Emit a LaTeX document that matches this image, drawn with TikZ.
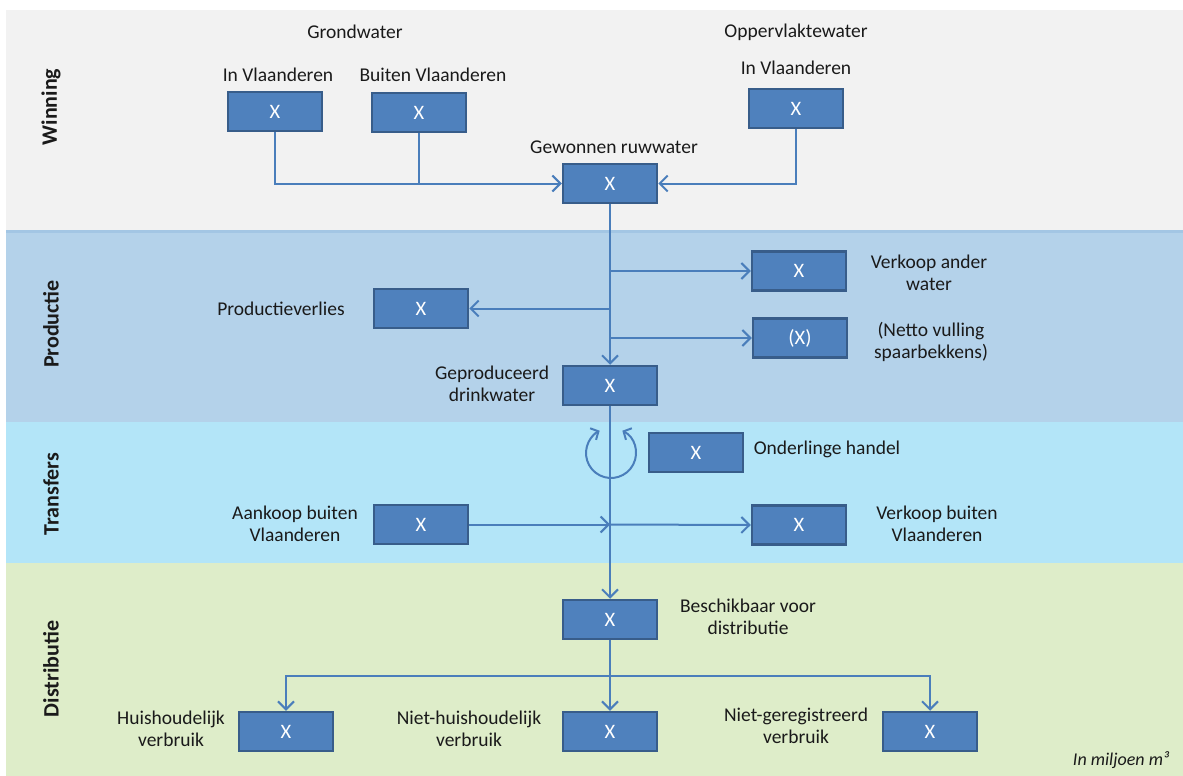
\documentclass[tikz,border=0pt]{standalone}
\usepackage{fontspec}
\setmainfont{Carlito}
\usetikzlibrary{arrows.meta,calc}
\definecolor{bandW}{HTML}{F2F2F2}
\definecolor{bandP}{HTML}{B4D2EA}
\definecolor{bandT}{HTML}{B3E5F8}
\definecolor{bandD}{HTML}{DEEDC9}
\definecolor{bandedge}{HTML}{A3C6E4}
\definecolor{boxfill}{HTML}{4F81BD}
\definecolor{boxline}{HTML}{385D8A}
\definecolor{flowc}{HTML}{4A7EBB}
\definecolor{txt}{HTML}{1A1A1A}
\begin{document}
\begin{tikzpicture}[x=1pt,y=-1pt,
  box/.style={draw=boxline, fill=boxfill, line width=2.5pt, minimum width=94pt,
    minimum height=39pt, inner sep=0pt, text=white, font=\fontsize{20.5}{22}\selectfont},
  lbl/.style={align=center, font=\fontsize{19.5}{22}\selectfont, text=txt, inner sep=0pt},
  bandlbl/.style={font=\bfseries\fontsize{22}{26}\selectfont, rotate=90, text=txt, inner sep=0pt},
  conn/.style={draw=flowc, line width=2pt},
  flow/.style={conn, -{Straight Barb[length=8pt,width=16pt]}},
  loopflow/.style={conn, {Straight Barb[length=6pt,width=13pt]}-{Straight Barb[length=6pt,width=13pt]}},
]
\useasboundingbox (0,0) rectangle (1183,776);
\fill[white] (0,0) rectangle (1183,776);
% bands
\fill[bandW] (6,10) rectangle (1183,230);
\fill[bandP] (6,230) rectangle (1183,422);
\fill[bandT] (6,422) rectangle (1183,563);
\fill[bandD] (6,563) rectangle (1183,776);
\draw[bandedge, line width=3pt] (6,231) -- (1183,231);

% band labels
\node[bandlbl] (lw) at (51,107) {Winning};
\node[bandlbl] (lp) at (51,324) {Productie};
\node[bandlbl] (lt) at (51,494) {Transfers};
\node[bandlbl] (ld) at (51,669) {Distributie};

% boxes
\node[box] (iv)  at (275,111.5) {X};
\node[box] (bv)  at (419,112.5) {X};
\node[box] (ov)  at (796,108.5) {X};
\node[box] (gew) at (610,183.5) {X};
\node[box] (va)  at (799,271) {X};
\node[box] (pv)  at (421,308.5) {X};
\node[box] (nv)  at (800,338) {(X)};
\node[box] (gep) at (610,385.5) {X};
\node[box] (oh)  at (696,452.5) {X};
\node[box] (ak)  at (421,524.5) {X};
\node[box] (vb)  at (799,525) {X};
\node[box] (bes) at (610,619.5) {X};
\node[box] (hh)  at (286,731.5) {X};
\node[box] (nh)  at (610,731.5) {X};
\node[box] (ng)  at (930,731.5) {X};

% labels
\node[lbl] (tgw) at (355,32) {Grondwater};
\node[lbl] (tow) at (796,32) {Oppervlaktewater};
\node[lbl] (tiv) at (278,75) {In Vlaanderen};
\node[lbl] (tbv) at (433,75) {Buiten Vlaanderen};
\node[lbl] (tov) at (796,68) {In Vlaanderen};
\node[lbl] (tgew) at (614,147) {Gewonnen ruwwater};
\node[lbl] (tva) at (929,273) {Verkoop ander\\water};
\node[lbl] (tpv) at (281,309) {Productieverlies};
\node[lbl] (tnv) at (931,342) {(Netto vulling\\spaarbekkens)};
\node[lbl] (tgep) at (492,384) {Geproduceerd\\drinkwater};
\node[lbl] (toh) at (827,449) {Onderlinge handel};
\node[lbl] (tak) at (295,524) {Aankoop buiten\\Vlaanderen};
\node[lbl] (tvb) at (937,524) {Verkoop buiten\\Vlaanderen};
\node[lbl] (tbes) at (748,617) {Beschikbaar voor\\distributie};
\node[lbl] (thh) at (171,729) {Huishoudelijk\\verbruik};
\node[lbl] (tnh) at (469,729) {Niet-huishoudelijk\\verbruik};
\node[lbl] (tng) at (796,726) {Niet-geregistreerd\\verbruik};
\node[lbl, font=\itshape\fontsize{18}{22}\selectfont] (unit) at (1121,760) {In miljoen m³};

% connectors: winning
\draw[flow] (iv.south) |- (gew.west);
\draw[conn] (bv.south) -- (bv.south |- gew.west);
\draw[flow] (ov.south) |- (gew.east);
% productie
\draw[flow] (gew.south) -- (gep.north);
\draw[flow] (gew.south |- va.west) -- (va.west);
\draw[flow] (gew.south |- pv.east) -- (pv.east);
\draw[flow] (gew.south |- nv.west) -- (nv.west);
% transfers
\draw[flow] (gep.south) -- (bes.north);
\coordinate (akj) at (gep.south |- ak.east);
\draw[flow] (ak.east) -- (akj);
\draw[flow] (akj) -- (vb.west);
\coordinate (lc) at (611,453);
\draw[loopflow] ($(lc)+(-63:25)$) arc[start angle=-63, end angle=243, radius=25];
% distributie
\coordinate (split) at ($(bes.south)+(0,36)$);
\draw[conn] (bes.south) -- (split);
\draw[flow] (split) -| (hh.north);
\draw[flow] (split) -| (ng.north);
\draw[flow] (split) -- (nh.north);
\end{tikzpicture}
\end{document}
